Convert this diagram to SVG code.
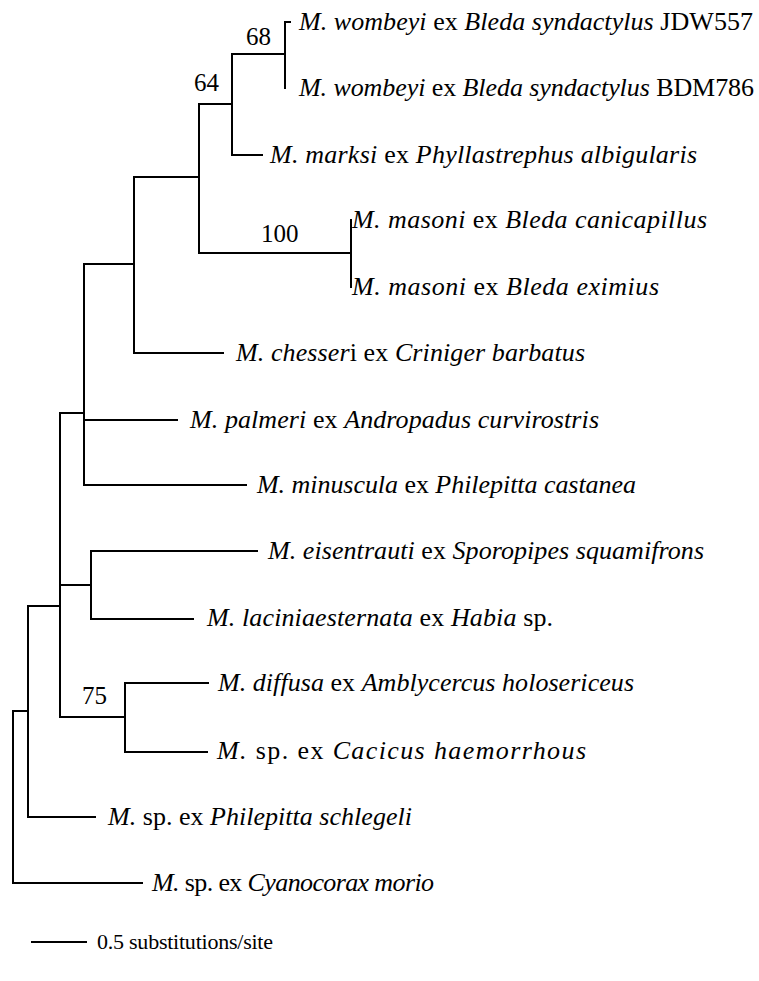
<svg xmlns="http://www.w3.org/2000/svg" width="759" height="981" viewBox="0 0 759 981">
<style>
.e{stroke:#000;stroke-width:2;fill:none;stroke-linecap:square}
text{font-family:'Liberation Serif','Times New Roman',serif;fill:#000}
.t{font-size:26px}
.i{font-style:italic}
.b{font-size:25px}
.s{font-size:22px}
</style>
<rect width="759" height="981" fill="#fff"/>
<g id="connectors">
<path class="e" d="M13 711V883H142M13 711H28M28 606V817H95M28 606H60M60 413V717M60 413H84M84 264V485M84 420H177M84 485H246M84 264H134M134 177V353M134 353H223M134 177H199M199 104V253M199 253H351M351 220V287M199 104H232M232 54V155M232 155H262M232 54H285M285 22V88M285 22H290M60 585H91M91 551V619M91 551H257M91 619H193M60 717H125M125 683V752M125 683H208M125 752H207"/>
</g>
<g id="support">
<text class="b" x="246" y="45">68</text>
<text class="b" x="194" y="91">64</text>
<text class="b" x="261" y="242">100</text>
<text class="b" x="82" y="704">75</text>
</g>
<g id="leaf1"><text class="t" x="299" y="30" textLength="454" lengthAdjust="spacing"><tspan class="i">M. wombeyi</tspan> ex <tspan class="i">Bleda syndactylus</tspan> JDW557</text></g>
<g id="leaf2"><text class="t" x="299" y="96" textLength="455" lengthAdjust="spacing"><tspan class="i">M. wombeyi</tspan> ex <tspan class="i">Bleda syndactylus</tspan> BDM786</text></g>
<g id="leaf3"><text class="t" x="270" y="163" textLength="427" lengthAdjust="spacing"><tspan class="i">M. marksi</tspan> ex <tspan class="i">Phyllastrephus albigularis</tspan></text></g>
<g id="leaf4"><text class="t" x="352" y="228" textLength="355" lengthAdjust="spacing"><tspan class="i">M. masoni</tspan> ex <tspan class="i">Bleda canicapillus</tspan></text></g>
<g id="leaf5"><text class="t" x="352" y="295" textLength="307" lengthAdjust="spacing"><tspan class="i">M. masoni</tspan> ex <tspan class="i">Bleda eximius</tspan></text></g>
<g id="leaf6"><text class="t" x="236" y="361" textLength="349" lengthAdjust="spacing"><tspan class="i">M. chesser</tspan>i ex <tspan class="i">Criniger barbatus</tspan></text></g>
<g id="leaf7"><text class="t" x="190" y="428" textLength="409" lengthAdjust="spacing"><tspan class="i">M. palmeri</tspan> ex <tspan class="i">Andropadus curvirostris</tspan></text></g>
<g id="leaf8"><text class="t" x="257" y="493" textLength="379" lengthAdjust="spacing"><tspan class="i">M. minuscula</tspan> ex <tspan class="i">Philepitta castanea</tspan></text></g>
<g id="leaf9"><text class="t" x="268" y="559" textLength="436" lengthAdjust="spacing"><tspan class="i">M. eisentrauti</tspan> ex <tspan class="i">Sporopipes squamifrons</tspan></text></g>
<g id="leaf10"><text class="t" x="207" y="626" textLength="346" lengthAdjust="spacing"><tspan class="i">M. laciniaesternata</tspan> ex <tspan class="i">Habia</tspan> sp.</text></g>
<g id="leaf11"><text class="t" x="218" y="691" textLength="416" lengthAdjust="spacing"><tspan class="i">M. diffusa</tspan> ex <tspan class="i">Amblycercus holosericeus</tspan></text></g>
<g id="leaf12"><text class="t" x="217" y="759" textLength="369" lengthAdjust="spacing"><tspan class="i">M.</tspan> sp. ex <tspan class="i">Cacicus haemorrhous</tspan></text></g>
<g id="leaf13"><text class="t" x="108" y="825" textLength="304" lengthAdjust="spacing"><tspan class="i">M.</tspan> sp. ex <tspan class="i">Philepitta schlegeli</tspan></text></g>
<g id="leaf14"><text class="t" x="152" y="891" textLength="282" lengthAdjust="spacing"><tspan class="i">M.</tspan> sp. ex <tspan class="i">Cyanocorax morio</tspan></text></g>
<g id="scale">
<path class="e" d="M32 942H86"/>
<text class="s" x="97" y="949" textLength="176" lengthAdjust="spacing">0.5 substitutions/site</text>
</g>
</svg>
